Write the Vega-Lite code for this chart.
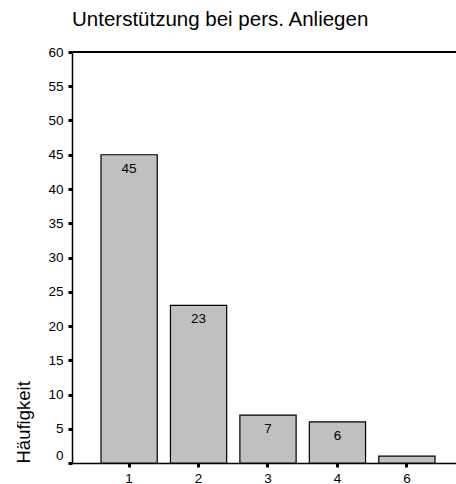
{
  "$schema": "https://vega.github.io/schema/vega-lite/v6.json",
  "width": 384,
  "height": 411,
  "autosize": {"type": "none"},
  "padding": {"left": 72, "top": 52, "right": 0, "bottom": 21},
  "background": "white",
  "title": {
    "text": "Unterstützung bei pers. Anliegen",
    "anchor": "start",
    "frame": "group",
    "font": "Liberation Sans",
    "fontSize": 20.5,
    "fontWeight": "normal",
    "color": "black",
    "baseline": "alphabetic",
    "offset": -1
  },
  "data": {
    "values": [
      {"kategorie": "1", "anzahl": 45},
      {"kategorie": "2", "anzahl": 23},
      {"kategorie": "3", "anzahl": 7},
      {"kategorie": "4", "anzahl": 6},
      {"kategorie": "6", "anzahl": 1}
    ]
  },
  "config": {
    "view": {"stroke": null},
    "font": "Liberation Sans",
    "axis": {
      "domainColor": "black",
      "domainWidth": 1.5,
      "tickColor": "black",
      "tickWidth": 3,
      "tickSize": 4,
      "labelColor": "black",
      "labelFont": "Liberation Sans",
      "labelFontSize": 13.5,
      "titleFont": "Liberation Sans",
      "titleFontWeight": "normal",
      "titleColor": "black",
      "grid": false
    }
  },
  "encoding": {
    "x": {
      "field": "kategorie",
      "type": "ordinal",
      "sort": null,
      "scale": {"paddingInner": 0.19, "paddingOuter": 0.36, "align": 0.58},
      "axis": {"title": null, "labelAngle": 0, "labelPadding": 4}
    },
    "y": {
      "field": "anzahl",
      "type": "quantitative",
      "scale": {"domain": [0, 60], "nice": false},
      "axis": {
        "title": "Häufigkeit",
        "titleFontSize": 18.5,
        "titleAnchor": "start",
        "titlePadding": 14,
        "values": [0, 5, 10, 15, 20, 25, 30, 35, 40, 45, 50, 55, 60],
        "labelPadding": 5,
        "labelOffset": {"condition": {"test": "datum.value === 0", "value": -8}, "value": 0}
      }
    }
  },
  "layer": [
    {
      "mark": {"type": "bar", "fill": "#c0c0c0", "stroke": "black", "strokeWidth": 1.2}
    },
    {
      "transform": [{"filter": "datum.anzahl > 1"}],
      "mark": {"type": "text", "baseline": "alphabetic", "dy": 18, "fontSize": 13.5, "color": "black"},
      "encoding": {"text": {"field": "anzahl", "type": "quantitative"}}
    },
    {
      "mark": {"type": "rule", "color": "black", "strokeWidth": 1.5},
      "encoding": {"y": {"datum": 60}, "x": null}
    }
  ]
}
